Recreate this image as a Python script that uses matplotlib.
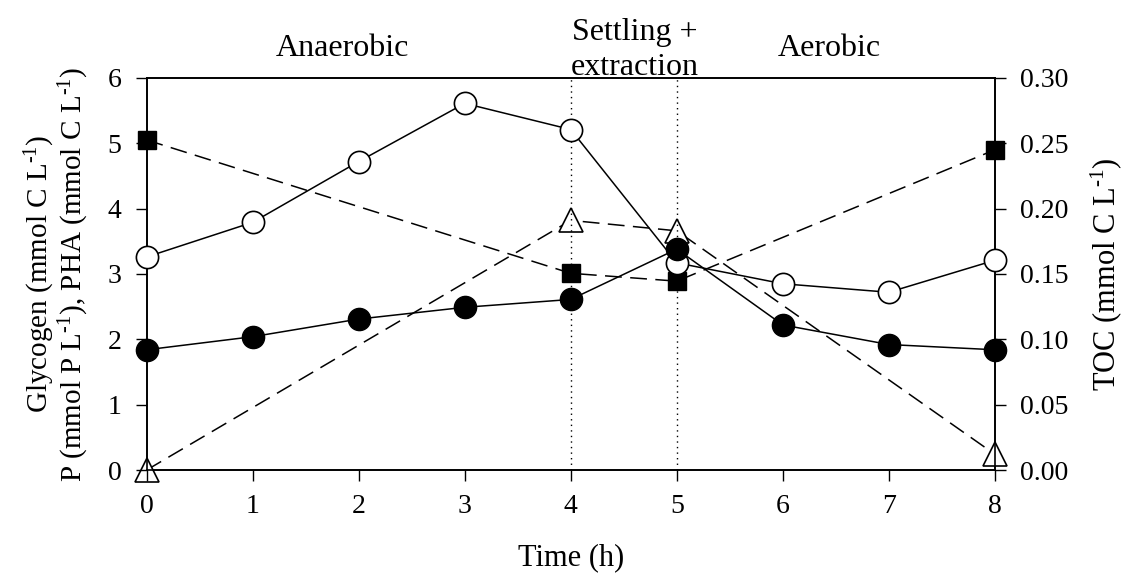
import matplotlib
matplotlib.use("Agg")
import matplotlib.pyplot as plt

plt.rcParams['font.family'] = ['Liberation Serif', 'DejaVu Serif']
plt.rcParams['mathtext.fontset'] = 'custom'
plt.rcParams['mathtext.rm'] = 'Liberation Serif'
plt.rcParams['mathtext.it'] = 'Liberation Serif:italic'

# data
time_h = [0, 1, 2, 3, 4, 5, 6, 7, 8]
glycogen = [3.26, 3.79, 4.72, 5.61, 5.21, 3.17, 2.85, 2.72, 3.21]   # open circles
phos = [1.84, 2.04, 2.31, 2.49, 2.61, 3.38, 2.22, 1.92, 1.84]       # filled circles
pha_t = [0, 4, 5, 8]
pha = [5.05, 3.01, 2.89, 4.90]                                       # filled squares
toc_t = [0, 4, 5, 8]
toc = [0.0, 0.191, 0.183, 0.012]                                     # open triangles

boundaries = [4, 5]

fig = plt.figure(figsize=(11.28, 5.77), dpi=100)
ax = fig.add_axes([0.130, 0.1854, 0.752, 0.6796])
ax2 = ax.twinx()

dash = (11, 5.5)
ax.plot(pha_t, pha, color='black', lw=1.1, ls=(0, dash), marker='s', ms=13,
        mfc='black', mec='black', zorder=3, clip_on=False)
ax2.plot(toc_t, toc, color='black', lw=1.1, ls=(0, dash), marker='^', ms=17,
         mfc='white', mec='black', mew=1.2, zorder=3, clip_on=False)
ax.plot(time_h, glycogen, color='black', lw=1.1, marker='o', ms=16,
        mfc='white', mec='black', mew=1.2, zorder=4, clip_on=False)
ax.plot(time_h, phos, color='black', lw=1.1, marker='o', ms=16,
        mfc='black', mec='black', zorder=5, clip_on=False)

for b in boundaries:
    ax.axvline(b, color='black', lw=1.0, ls=(0, (1, 3)), zorder=1)

ax.set_xlim(0, 8)
ax.set_ylim(0, 6)
ax2.set_ylim(0, 0.30)
ax.set_xticks(time_h)
ax.set_yticks(range(0, 7))
ax2.set_yticks([0.0, 0.05, 0.10, 0.15, 0.20, 0.25, 0.30])
ax2.set_yticklabels(['%.2f' % v for v in ax2.get_yticks()])

fs = 20
for a in (ax, ax2):
    a.tick_params(direction='out', length=8, width=1.0, labelsize=fs, pad=10)
    for s in a.spines.values():
        s.set_linewidth(1.2)
ax.tick_params(axis='x', pad=9)

sup = '$^{\\text{-1}}$'
ax.set_xlabel('Time (h)', fontsize=22, labelpad=18)
ax.set_ylabel('Glycogen (mmol C L' + sup + ')\nP (mmol P L' + sup + '), PHA (mmol C L' + sup + ')',
              fontsize=21, labelpad=12, linespacing=1.0)
ax2.set_ylabel('TOC (mmol C L' + sup + ')', fontsize=22, labelpad=14)

ax.text(1.85, 6.34, 'Anaerobic', ha='center', va='baseline', fontsize=23)
ax.text(4.6, 6.58, 'Settling +', ha='center', va='baseline', fontsize=23)
ax.text(4.6, 6.05, 'extraction', ha='center', va='baseline', fontsize=23)
ax.text(6.44, 6.34, 'Aerobic', ha='center', va='baseline', fontsize=23)

ax.set_zorder(ax2.get_zorder() + 1)
ax.patch.set_visible(False)

fig.savefig('out.png', dpi=100)
